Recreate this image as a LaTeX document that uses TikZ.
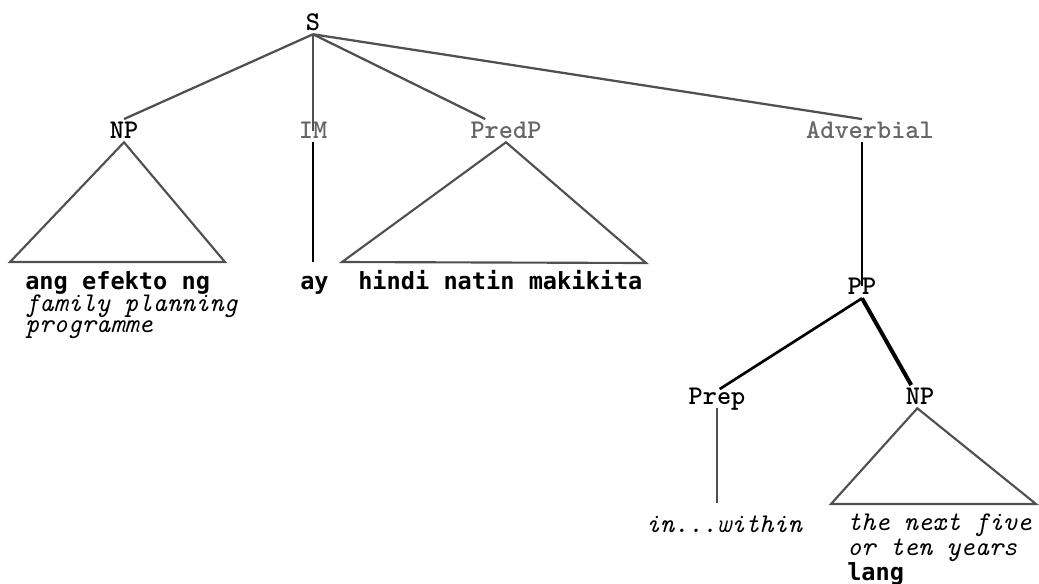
\documentclass[tikz,border=0pt]{standalone}
\usepackage{fontspec}
\newfontfamily\glossfont{DejaVu Sans Mono}

\definecolor{inkgray}{HTML}{505050}
\definecolor{labgray}{HTML}{666666}

% object-language words (bold) and English glosses (italic)
\newcommand{\tgl}{\glossfont\bfseries}
\newcommand{\eng}{\ttfamily\itshape\fontsize{20.25}{16.4}\selectfont}

\tikzset{
  cat/.style={anchor=base, font=\ttfamily\bfseries\fontsize{20.25}{24}\selectfont,
    inner xsep=0.75pt, inner ysep=2pt, text height=12pt, text depth=1pt},
  branch/.style={draw=inkgray, line width=1.7pt},
  stem/.style={draw=black, line width=1.5pt},
  roof/.style={draw=inkgray, line width=1.6pt, line join=miter},
  leaf/.style={anchor=north west, inner sep=0pt, align=left,
    font=\fontsize{17.7}{16.4}\selectfont},
}

\begin{document}
\begin{tikzpicture}[x=0.75pt,y=0.75pt,yscale=-1,xscale=1]
\useasboundingbox (0,0) rectangle (1039,583);

% categories
\node[cat] (S) at (313,30) {S};
\node[cat] (np) at (124,138) {NP};
\node[cat, text=labgray] (im) at (313,138) {IM};
\node[cat, text=labgray] (predp) at (506,138) {PredP};
\node[cat, text=labgray] (adv) at (870,138) {Adverbial};
\node[cat] (pp) at (862,294) {PP};
\node[cat] (prep) at (717,404) {Prep};
\node[cat] (np2) at (920,404) {NP};

% feet of the triangles and stems
\coordinate (np-l) at (10,262);
\coordinate (np-r) at (225,262);
\coordinate (predp-l) at (342,262);
\coordinate (predp-r) at (646,263);
\coordinate (np2-l) at (831,504);
\coordinate (np2-r) at (1036,504);
\coordinate (im-foot) at (313,262);
\coordinate (prep-foot) at (717,503);

% branches from S
\draw[branch] (S.south) -- (np.north);
\draw[branch] (S.south) -- ([yshift=9pt]im.north);
\draw[branch] (S.south) -- ([xshift=12pt]predp.north west);
\draw[branch] (S.south) -- (adv.north -| pp);

% lower structure
\draw[stem] (im.south) -- (im-foot);
\draw[stem] (adv.south -| pp) -- ([yshift=8pt]pp.north);
\draw[stem, line width=2pt] (pp.south) -- ([xshift=2pt,yshift=3pt]prep.north);
\draw[stem, line width=3pt] (pp.south) -- ([xshift=5pt]np2.north west);
\draw[branch, line width=1.3pt] (prep.south) -- (prep-foot);

\draw[roof] (np.south) -- (np-l) -- (np-r) -- cycle;
\draw[roof] (predp.south) -- (predp-l) -- (predp-r) -- cycle;
\draw[roof] ([xshift=-2pt]np2.south) -- (np2-l) -- (np2-r) -- cycle;

% terminal strings
\node[leaf] (np-leaf) at (25,271) {{\tgl ang efekto ng}\\{\eng family planning}\\{\eng programme}};
\node[leaf, anchor=base west] (ay) at (300,289) {\tgl ay};
\node[leaf, anchor=base west] (predp-leaf) at (358,289) {\tgl hindi natin makikita};
\node[leaf, anchor=base] (prep-leaf) at (724,532) {\eng in...within};
\node[leaf] (np2-leaf) at (847,514) {{\eng the next five}\\{\eng or ten years}\\{\tgl lang}};
\end{tikzpicture}
\end{document}
